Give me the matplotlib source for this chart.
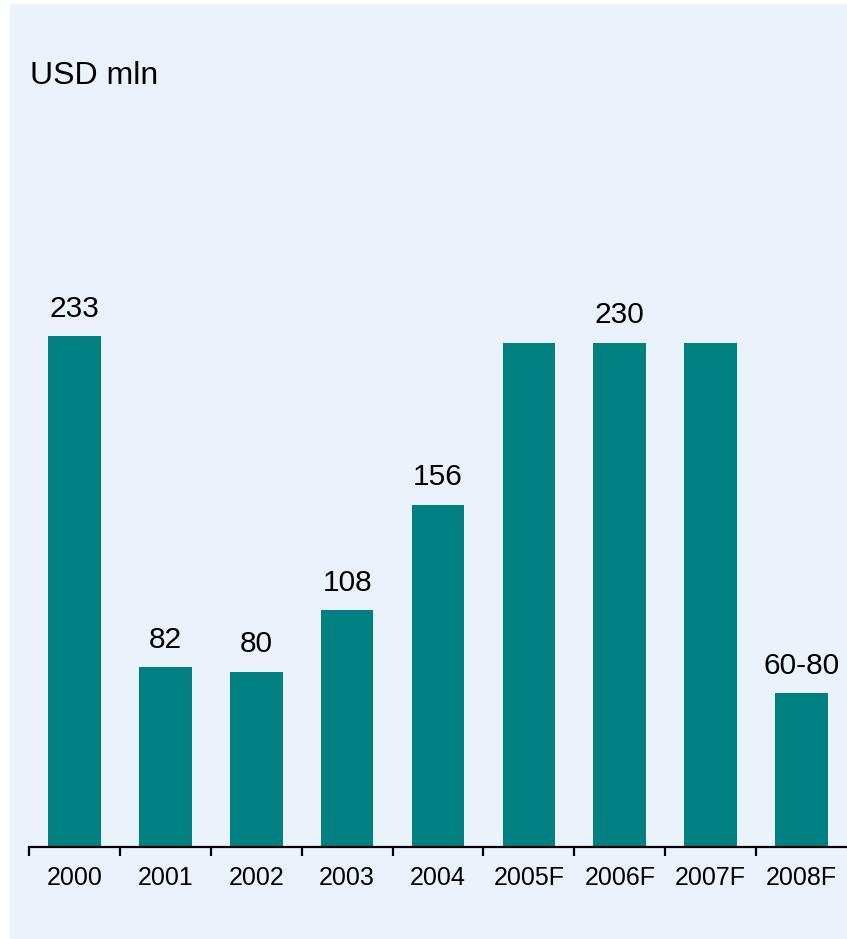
import matplotlib.pyplot as plt
import numpy as np

plt.rcParams['font.family'] = ['Liberation Sans', 'DejaVu Sans']

years = ['2000', '2001', '2002', '2003', '2004', '2005F', '2006F', '2007F', '2008F']
values = [233, 82, 80, 108, 156, 230, 230, 230, 70]
labels = ['233', '82', '80', '108', '156', '', '230', '', '60-80']

bg = '#EAF3FC'
teal = '#008080'

W, H = 847, 939
fig = plt.figure(figsize=(W / 100, H / 100), dpi=100)
fig.patch.set_facecolor('white')

# light blue panel behind everything
panel = plt.Rectangle((10 / W, 0), 1 - 10 / W, 1 - 4 / H, transform=fig.transFigure,
                      facecolor=bg, edgecolor='none', zorder=-10)
fig.patches.append(panel)

ax = fig.add_axes([29 / W, 1 - 847 / H, 818 / W, 787 / H])
ax.set_facecolor('none')
ax.set_zorder(1)

x = np.arange(len(years))
ax.bar(x, values, width=0.58, color=teal, zorder=2)

for xi, v, lab in zip(x, values, labels):
    if lab:
        ax.annotate(lab, (xi, v), xytext=(0, 14), textcoords='offset points',
                    ha='center', va='baseline', fontsize=21.5, color='black')

ax.set_xlim(-0.5, len(years) - 0.5)
ax.set_ylim(0, 787 / 2.193)

for side in ['top', 'right', 'left']:
    ax.spines[side].set_visible(False)
ax.spines['bottom'].set_linewidth(1.6)
ax.spines['bottom'].set_color('black')
ax.set_yticks([])

# boundary ticks between categories, labels centred under the bars
ax.set_xticks(np.arange(-0.5, len(years) - 0.5, 1.0))
ax.set_xticklabels([])
ax.set_xticks(x, minor=True)
ax.set_xticklabels(years, minor=True, fontsize=18)
ax.tick_params(axis='x', which='major', direction='out', length=6.5, width=1.6, color='black')
ax.tick_params(axis='x', which='minor', length=0, pad=14)

fig.text(30 / W, 1 - 84 / H, 'USD mln', fontsize=23, ha='left', va='baseline')

fig.savefig('out.png', dpi=100, facecolor=fig.get_facecolor())
